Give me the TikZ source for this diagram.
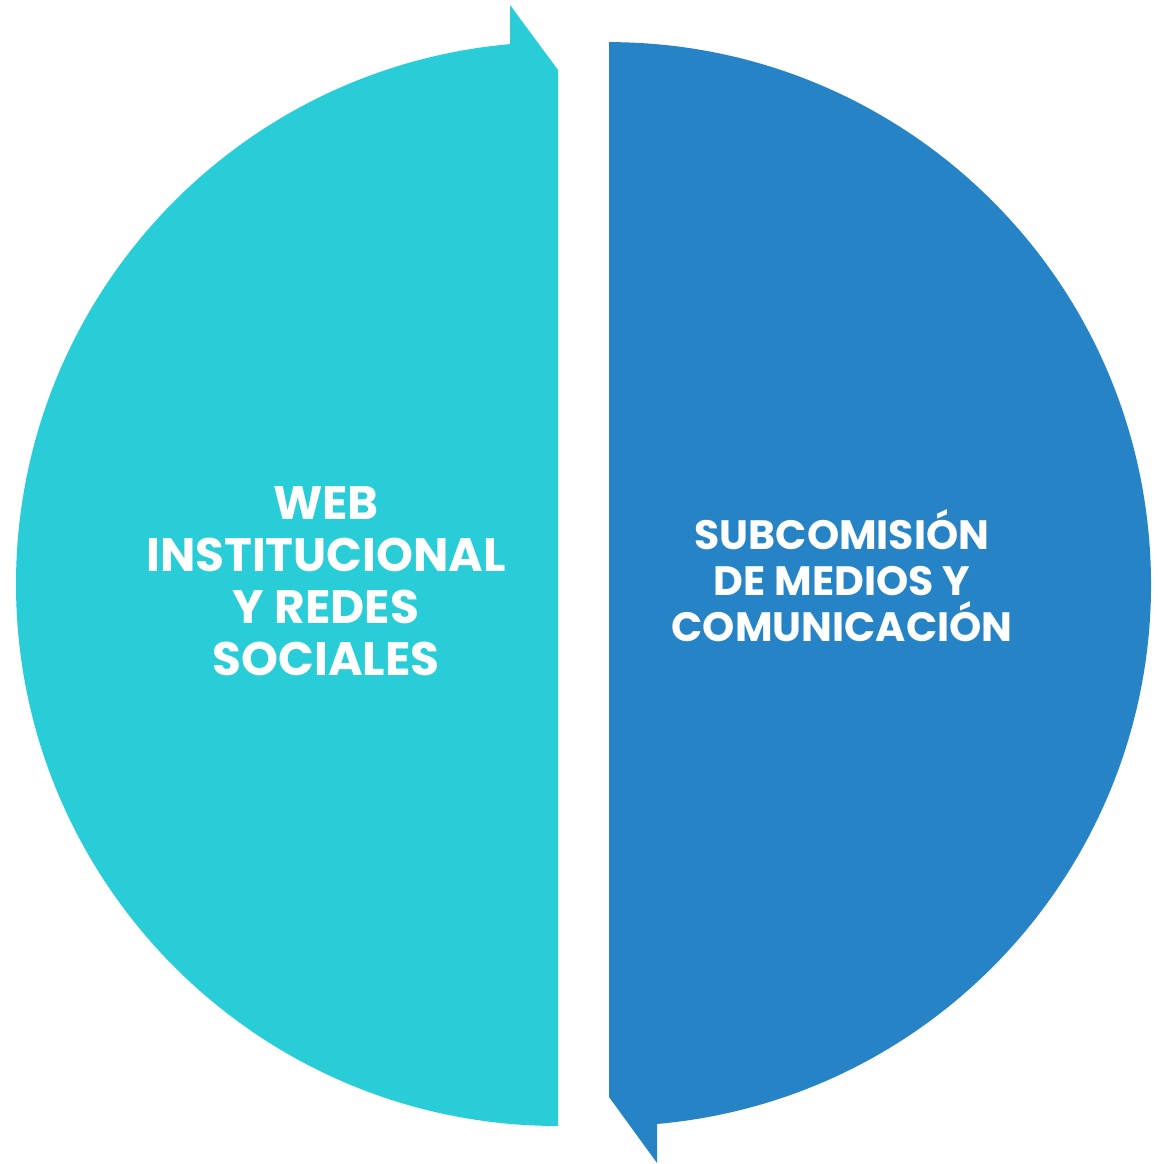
\documentclass[tikz,border=0pt]{standalone}
\usepackage{fontspec}
\setmainfont{Poppins}
\definecolor{halfcyan}{RGB}{40,205,215}
\definecolor{halfblue}{RGB}{38,132,198}
\tikzset{
  halftext/.style={text=white, align=center, inner sep=0pt}
}

\begin{document}
\begin{tikzpicture}[x=1pt,y=1pt]
    \useasboundingbox (0,0) rectangle (1157,1164);

    % left half, arrow on top
    \fill[halfcyan] (510,1159) -- (558,1094) -- (558,38)
      arc[start angle=270, end angle=95.08, radius=542] -- cycle;
    % right half, arrow at the bottom
    \fill[halfblue] (609,1122) -- (609,67) -- (657,1) -- (657,40)
      arc[start angle=-84.92, end angle=90, radius=542] -- cycle;

    \node[halftext, font=\fontsize{47}{52}\selectfont\bfseries] (web) at (326,583)
      {WEB\\INSTITUCIONAL\\Y REDES\\SOCIALES};
    \node[halftext, font=\fontsize{41}{46}\selectfont\bfseries] (subcom) at (842,588)
      {SUBCOMISIÓN\\DE MEDIOS Y\\COMUNICACIÓN};
  \end{tikzpicture}
\end{document}
